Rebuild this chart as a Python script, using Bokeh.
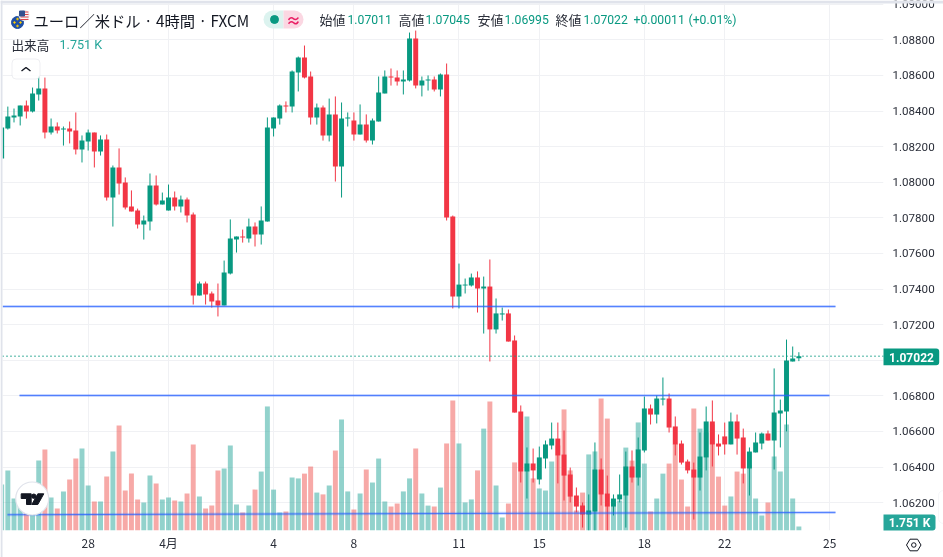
from bokeh.plotting import figure
from bokeh.layouts import column, row
from bokeh.embed import file_html
from bokeh.resources import INLINE
from bokeh.models import (Range1d, FixedTicker, PrintfTickFormatter, Label, BoxAnnotation, Span)

# index of each 4-hour candle runs from -1 to 128
opens = [1.08133,1.08302,1.08364,1.08369,1.08431,1.08397,1.08493,1.08527,1.08279,1.08313,
 1.08296,1.08302,1.08291,1.08184,1.08229,1.08279,1.08173,1.08240,1.07914,1.08083,
 1.07999,1.07864,1.07841,1.07763,1.07779,1.07982,1.07875,1.07841,1.07914,1.07864,
 1.07903,1.07819,1.07364,1.07431,1.07375,1.07336,1.07308,1.07487,1.07678,1.07695,
 1.07684,1.07751,1.07706,1.07779,1.08302,1.08358,1.08431,1.08425,1.08617,1.08701,
 1.08594,1.08364,1.08420,1.08263,1.08381,1.08088,1.08358,1.08347,1.08268,1.08324,
 1.08234,1.08341,1.08499,1.08594,1.08588,1.08566,1.08572,1.08808,1.08543,1.08572,
 1.08577,1.08521,1.08605,1.07808,1.07358,1.07420,1.07420,1.07465,1.07403,1.07414,
 1.07173,1.07257,1.07263,1.07111,1.06712,1.06375,1.06420,1.06330,1.06448,1.06521,
 1.06560,1.06470,1.06358,1.06240,1.06184,1.06133,1.06150,1.06386,1.06251,1.06178,
 1.06218,1.06240,1.06403,1.06341,1.06493,1.06729,1.06695,1.06779,1.06785,1.06628,
 1.06532,1.06431,1.06386,1.06341,1.06454,1.06656,1.06532,1.06572,1.06527,1.06656,
 1.06566,1.06392,1.06482,1.06532,1.06588,1.06549,1.06701,1.06712,1.06993,1.07011]
highs = [1.08308,1.08425,1.08414,1.08431,1.08459,1.08532,1.08594,1.08588,1.08358,1.08336,
 1.08313,1.08341,1.08392,1.08263,1.08296,1.08279,1.08263,1.08268,1.08094,1.08190,
 1.08027,1.07954,1.07852,1.07813,1.08049,1.08038,1.07942,1.07987,1.07948,1.07925,
 1.07914,1.07830,1.07442,1.07442,1.07386,1.07431,1.07560,1.07791,1.07695,1.07734,
 1.07796,1.07774,1.07864,1.08364,1.08364,1.08437,1.08454,1.08628,1.08706,1.08768,
 1.08622,1.08442,1.08431,1.08470,1.08482,1.08448,1.08392,1.08392,1.08437,1.08381,
 1.08358,1.08594,1.08628,1.08639,1.08628,1.08628,1.08841,1.08852,1.08594,1.08600,
 1.08594,1.08611,1.08667,1.07813,1.07543,1.07459,1.07487,1.07499,1.07470,1.07566,
 1.07347,1.07296,1.07285,1.07139,1.06746,1.06510,1.06504,1.06515,1.06549,1.06650,
 1.06650,1.06605,1.06397,1.06285,1.06201,1.06246,1.06538,1.06448,1.06352,1.06246,
 1.06358,1.06487,1.06493,1.06566,1.06796,1.06751,1.06802,1.06903,1.06813,1.06684,
 1.06549,1.06442,1.06425,1.06594,1.06740,1.06774,1.06583,1.06650,1.06706,1.06695,
 1.06616,1.06510,1.06594,1.06594,1.06605,1.06954,1.06779,1.07116,1.07077,1.07045]
lows = [1.08133,1.08296,1.08336,1.08319,1.08358,1.08392,1.08459,1.08246,1.08268,1.08274,
 1.08206,1.08218,1.08156,1.08111,1.08178,1.08083,1.08150,1.07897,1.07751,1.07931,
 1.07847,1.07836,1.07740,1.07678,1.07729,1.07869,1.07875,1.07841,1.07841,1.07830,
 1.07774,1.07313,1.07364,1.07313,1.07296,1.07246,1.07308,1.07482,1.07605,1.07661,
 1.07661,1.07639,1.07650,1.07779,1.08257,1.08324,1.08392,1.08392,1.08510,1.08583,
 1.08324,1.08324,1.08234,1.08229,1.08004,1.07914,1.08313,1.08234,1.08268,1.08223,
 1.08212,1.08341,1.08499,1.08543,1.08543,1.08493,1.08566,1.08527,1.08482,1.08515,
 1.08510,1.08482,1.07785,1.07291,1.07291,1.07375,1.07414,1.07268,1.07150,1.06993,
 1.07150,1.07223,1.07105,1.06706,1.06313,1.06223,1.06313,1.06302,1.06392,1.06499,
 1.06308,1.06212,1.06201,1.06145,1.06060,1.06043,1.06043,1.06184,1.06043,1.06128,
 1.06201,1.06060,1.06313,1.06296,1.06482,1.06639,1.06645,1.06746,1.06594,1.06465,
 1.06414,1.06364,1.06105,1.06268,1.06381,1.06403,1.06465,1.06470,1.06527,1.06470,
 1.06308,1.06240,1.06482,1.06499,1.06549,1.06386,1.06510,1.06600,1.06993,1.06995]
closes = [1.08308,1.08369,1.08375,1.08431,1.08397,1.08499,1.08527,1.08279,1.08313,1.08291,
 1.08302,1.08285,1.08184,1.08234,1.08279,1.08173,1.08240,1.07914,1.08083,1.07993,
 1.07858,1.07836,1.07763,1.07785,1.07982,1.07875,1.07897,1.07914,1.07864,1.07903,
 1.07813,1.07364,1.07431,1.07369,1.07330,1.07308,1.07493,1.07684,1.07695,1.07690,
 1.07751,1.07706,1.07785,1.08308,1.08364,1.08431,1.08425,1.08622,1.08701,1.08588,
 1.08364,1.08420,1.08263,1.08381,1.08088,1.08358,1.08364,1.08268,1.08324,1.08234,
 1.08347,1.08504,1.08594,1.08588,1.08566,1.08577,1.08808,1.08543,1.08572,1.08577,
 1.08521,1.08605,1.07802,1.07358,1.07425,1.07425,1.07465,1.07403,1.07414,1.07173,
 1.07263,1.07263,1.07105,1.06706,1.06375,1.06420,1.06381,1.06454,1.06527,1.06560,
 1.06465,1.06352,1.06234,1.06178,1.06133,1.06156,1.06386,1.06246,1.06178,1.06223,
 1.06246,1.06403,1.06341,1.06499,1.06729,1.06695,1.06785,1.06785,1.06622,1.06527,
 1.06425,1.06381,1.06341,1.06459,1.06656,1.06527,1.06515,1.06527,1.06656,1.06560,
 1.06392,1.06487,1.06538,1.06588,1.06549,1.06706,1.06718,1.06999,1.07010,1.07022]
# volume in thousands
volumes = [20.1,26.3,14.0,16.0,12.4,13.1,30.6,35.5,14.4,9.6,17.1,22.3,31.5,35.9,19.7,12.7,12.7,23.6,34.6,46.0,
 17.5,24.9,13.6,12.3,24.1,20.6,13.6,14.4,13.1,12.7,16.2,37.6,14.9,9.6,10.9,26.3,27.1,37.2,11.4,7.9,
 10.9,17.9,25.8,54.3,17.9,7.9,8.3,23.2,22.8,24.9,28.0,16.6,15.8,19.7,35.0,48.6,17.1,9.2,16.2,26.7,
 21.0,31.5,12.7,10.5,11.8,17.1,22.8,35.9,16.2,10.9,10.5,18.8,38.1,56.9,38.1,12.3,13.6,26.3,44.6,56.5,
 19.7,5.7,11.8,29.8,43.8,49.9,22.8,18.4,17.5,30.2,37.2,53.0,26.3,8.8,16.6,33.3,34.6,57.8,49.0,12.3,
 13.1,36.3,30.6,47.3,29.3,8.3,14.0,24.9,29.3,37.9,22.3,10.5,53.4,44.6,42.9,46.4,23.6,10.9,14.9,25.8,
 24.9,28.5,14.0,6.6,12.3,32.4,25.8,46.4,14.0,1.751]
# 1.070 has a grid line but its label is hidden by the last-price tag
axis_ticks = [1.062,1.064,1.066,1.068,1.072,1.074,1.076,1.078,1.080,1.082,1.084,1.086,1.088]
grid_ticks = axis_ticks + [1.070, 1.090]
x_tick_pos = [13,26,43,56,73,86,103,116,133]
x_tick_labels = ["28","4月","4","8","11","15","18","22","25"]
level_upper = [1.07302,1.07302]
level_mid = [1.06802,1.06802]
level_low = [1.06132,1.06145]
GREEN, RED = "#089981", "#f23645"

xs = list(range(-1, 129))
colors = [GREEN if c >= o else RED for o, c in zip(opens, closes)]
vcolors = ["#26a69a" if c >= o else "#ef5350" for o, c in zip(opens, closes)]
tops = [max(o, c) for o, c in zip(opens, closes)]
bots = [min(o, c) for o, c in zip(opens, closes)]

X = lambda px: (px - 7.33) / 6.18
Y = lambda py: 1.09021 - 5.618e-5 * py

p = figure(width=941, height=554, output_backend="svg", toolbar_location=None,
           x_range=Range1d(X(2), X(883)), y_range=Range1d(Y(530), Y(3)),
           y_axis_location="right", min_border_left=0, min_border_top=0,
           min_border_right=60, min_border_bottom=27, tools="")
p.styles = {"position": "fixed", "left": "2px", "top": "3px"}
p.outline_line_color = None
p.background_fill_color = "white"
p.extra_y_ranges = {"vol": Range1d(0, 230.7)}

for ax in (p.xaxis[0], p.yaxis[0]):
    ax.axis_line_color = None
    ax.major_tick_line_color = None
    ax.minor_tick_line_color = None
    ax.major_tick_out = 0
    ax.major_tick_in = 0
    ax.major_label_text_color = "#2a2e39"
p.yaxis[0].ticker = FixedTicker(ticks=axis_ticks)
p.yaxis[0].formatter = PrintfTickFormatter(format="%.5f")
p.yaxis[0].major_label_text_font = "Roboto"
p.yaxis[0].major_label_text_font_size = "11.6px"
p.yaxis[0].major_label_standoff = 9
p.xaxis[0].ticker = FixedTicker(ticks=x_tick_pos)
p.xaxis[0].major_label_overrides = dict(zip(x_tick_pos, x_tick_labels))
p.xaxis[0].major_label_text_font = "Noto Sans CJK JP"
p.xaxis[0].major_label_text_font_size = "12px"
p.xaxis[0].major_label_standoff = 3

for g, t in ((p.xgrid[0], x_tick_pos), (p.ygrid[0], grid_ticks)):
    g.ticker = FixedTicker(ticks=t)
    g.grid_line_color = "#f0f1f4"
    g.grid_line_width = 1

p.vbar(x=xs, top=volumes, bottom=0, width=0.8, color=vcolors, fill_alpha=0.5, line_alpha=0, y_range_name="vol")
p.segment(x0=xs, x1=xs, y0=lows, y1=highs, color=colors, line_width=1)
p.vbar(x=xs, top=tops, bottom=bots, width=0.8, fill_color=colors, line_alpha=0)

p.add_layout(Span(location=closes[-1], dimension="width", line_color=GREEN, line_width=1.5, line_dash="1 3"))

for lx, ly in (([X(2), X(835)], level_upper), ([X(19), X(829)], level_mid), ([X(7), X(835)], level_low)):
    p.line(lx, ly, line_color="#2962ff", line_width=3, line_alpha=0.25)
    p.line(lx, ly, line_color="#2962ff", line_width=1, line_alpha=0.75)

# transparent sheet over the whole window for the header, badges and tags; units are window pixels
o = figure(width=943, height=557, frame_width=943, frame_height=557, output_backend="svg",
           toolbar_location=None, tools="",
           x_range=Range1d(0, 943), y_range=Range1d(557, 0), x_axis_type=None, y_axis_type=None,
           min_border=0, background_fill_color=None, border_fill_color=None, outline_line_color=None)
o.grid.visible = False
o.styles = {"position": "fixed", "left": "0", "top": "0", "pointer-events": "none"}


def txt(px, py, s, size=13, color="#131722", font="Noto Sans CJK JP", align="left", style="normal"):
    o.add_layout(Label(x=px, y=py, text=s, text_font=font, text_font_size=f"{size}px",
                       text_color=color, text_align=align, text_baseline="middle", text_font_style=style))


def box(l, r, t, b, fill, line=None, radius=0, alpha=1.0, level="underlay"):
    o.add_layout(BoxAnnotation(left=l, right=r, top=t, bottom=b, fill_color=fill, fill_alpha=alpha,
                               line_color=line, line_width=1, border_radius=radius, level=level))


# symbol flag
o.scatter([17], [22], size=12, color="#1f4fa3")
o.scatter([17, 14, 20, 17], [18.5, 22, 22, 25.5], size=1.6, color="#ffcc00")
o.scatter([23.5], [15], size=10, fill_color="#f6f6f6", line_color="#e8e8e8")
for sy in (11.5, 14, 16.5, 19):
    o.line([20, 28], [sy, sy], line_color="#e0434b", line_width=1.2)
o.scatter([21.5], [13], size=5, marker="square", color="#33508f")

txt(33, 19.5, "ユーロ／米ドル · 4時間 · FXCM", size=15.3)
box(263, 283, 10, 28, "#dcf3ef", radius={"top_left": 9, "bottom_left": 9, "top_right": 0, "bottom_right": 0})
box(283, 303, 10, 28, "#fbd7e2", radius={"top_left": 0, "bottom_left": 0, "top_right": 9, "bottom_right": 9})
o.scatter([274], [19], size=8, color=GREEN)
txt(293, 19, "≈", size=15, color="#e91e63", align="center", style="bold")

for px, s in ((319, "始値"), (398, "高値"), (477, "安値"), (555, "終値")):
    txt(px, 19, s, size=13, color="#2a2e39")
for px, s in ((347, "1.07011"), (425, "1.07045"), (504, "1.06995"), (583, "1.07022"), (633, "+0.00011"), (688, "(+0.01%)")):
    txt(px, 19, s, size=12.2, color=GREEN, font="Roboto")

txt(11, 44, "出来高", size=12.6, color="#2a2e39")
txt(59, 44, "1.751 K", size=12.6, color="#26a69a", font="Roboto")

box(11.5, 39.5, 58.5, 78.5, "white", line="#c8cbd3", radius=4, alpha=0.85)
o.line([21, 25.5, 30], [70.5, 67, 70.5], line_color="#131722", line_width=1.4)

# logo badge
o.scatter([31.7], [498], size=33, fill_color="white", line_color="#e0e3eb", line_width=1.2)
o.patch([20.7, 30.7, 30.7, 26, 26, 20.7], [493.3, 493.3, 504, 504, 498, 498], color="#131722")
o.scatter([33.3], [495.7], size=4.4, color="#131722")
o.patch([37.3, 43.3, 37.3, 31.3], [493.3, 493.3, 504, 504], color="#131722")

# top tick that sits half under the chart's upper edge
txt(892, 3.5, "1.09000", size=11.6, color="#2a2e39", font="Roboto")
box(0, 943, 0, 3, "#e0e3eb", level="annotation")
box(0, 2, 0, 557, "#e0e3eb", level="annotation")

# last-value tags
box(883, 938.7, 348, 364.7, GREEN, radius={"top_left": 0, "bottom_left": 0, "top_right": 3, "bottom_right": 3})
txt(911, 356.6, "1.07022", size=12, color="white", font="Roboto", align="center", style="bold")
box(883, 935, 514, 530, "#26a69a", radius={"top_left": 0, "bottom_left": 0, "top_right": 3, "bottom_right": 3})
txt(909, 522.3, "1.751 K", size=12, color="white", font="Roboto", align="center", style="bold")

# side handle and settings icon
box(938, 950, 490, 523, "white", line="#e0e3eb", radius=5)
o.patch([906, 909.5, 917, 920.5, 917, 909.5], [544.5, 538.7, 538.7, 544.5, 550.3, 550.3],
        fill_alpha=0, line_color="#131722", line_width=1)
o.scatter([913.3], [544.5], size=4.5, fill_alpha=0, line_color="#131722", line_width=1)

open("out.html", "w").write(file_html(column(row(p), row(o)), INLINE))
